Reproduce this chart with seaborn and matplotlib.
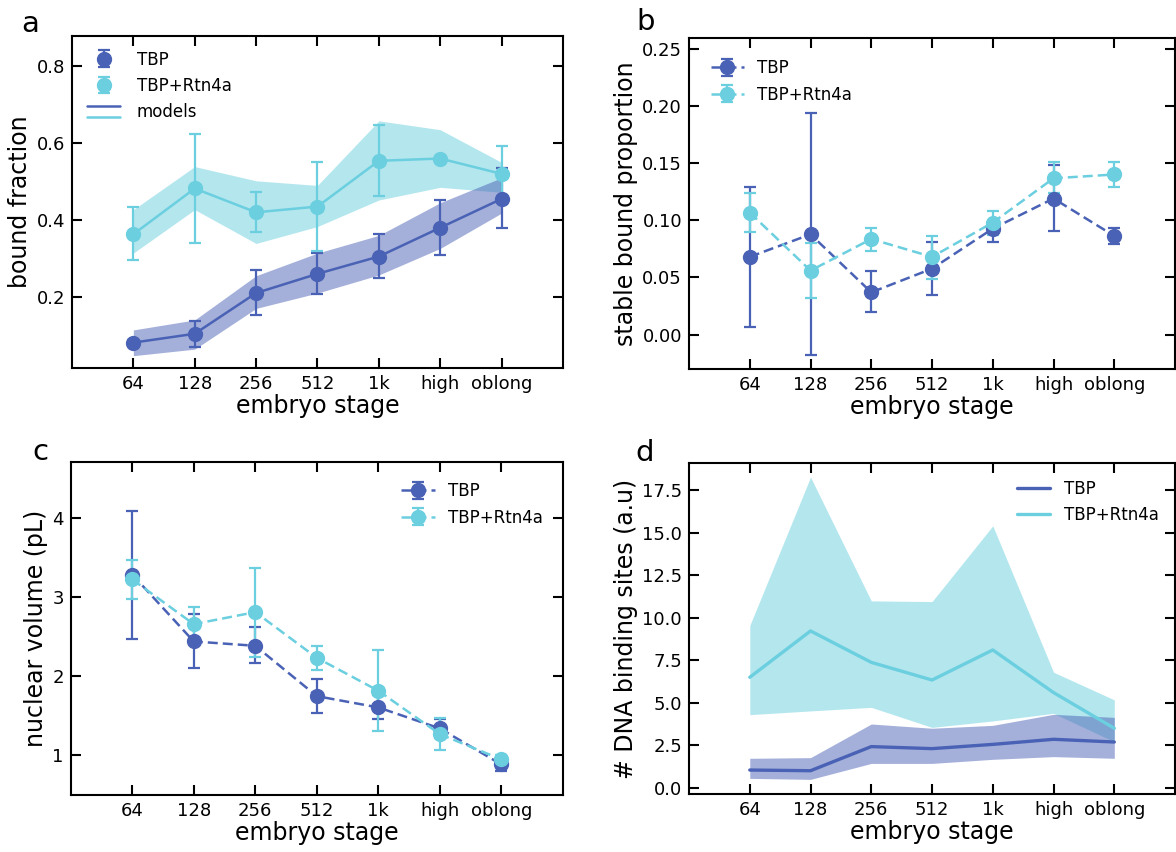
import numpy as np
import matplotlib
matplotlib.use("Agg")
import matplotlib.pyplot as plt
import seaborn as sns
from matplotlib.lines import Line2D
from matplotlib.legend_handler import HandlerBase

stages = ["64", "128", "256", "512", "1k", "high", "oblong"]

# a: bound fraction (points + error bars, model line + band)
bf_tbp = [0.081, 0.104, 0.21, 0.26, 0.305, 0.38, 0.455]
bf_tbp_lo = [0.075, 0.07, 0.152, 0.207, 0.248, 0.309, 0.38]
bf_tbp_hi = [0.087, 0.136, 0.27, 0.314, 0.363, 0.452, 0.535]
bf_tbp_band_lo = [0.047, 0.064, 0.17, 0.21, 0.257, 0.326, 0.418]
bf_tbp_band_hi = [0.114, 0.14, 0.255, 0.314, 0.36, 0.445, 0.51]
bf_rtn = [0.363, 0.482, 0.42, 0.435, 0.554, 0.56, 0.52]
bf_rtn_lo = [0.296, 0.339, 0.37, 0.32, 0.463, 0.555, 0.455]
bf_rtn_hi = [0.434, 0.624, 0.472, 0.55, 0.647, 0.565, 0.592]
bf_rtn_band_lo = [0.314, 0.427, 0.339, 0.383, 0.452, 0.485, 0.472]
bf_rtn_band_hi = [0.427, 0.539, 0.502, 0.49, 0.658, 0.635, 0.55]

# b: stable bound proportion
sb_tbp = [0.068, 0.0877, 0.037, 0.0577, 0.0927, 0.119, 0.0863]
sb_tbp_lo = [0.007, -0.018, 0.0195, 0.0344, 0.0813, 0.091, 0.079]
sb_tbp_hi = [0.129, 0.194, 0.0557, 0.0813, 0.0985, 0.148, 0.0935]
sb_rtn = [0.1067, 0.056, 0.0836, 0.068, 0.098, 0.1367, 0.140]
sb_rtn_lo = [0.090, 0.0318, 0.073, 0.049, 0.087, 0.124, 0.129]
sb_rtn_hi = [0.1236, 0.080, 0.093, 0.086, 0.108, 0.151, 0.151]

# c: nuclear volume
nv_tbp = [3.29, 2.443, 2.388, 1.751, 1.608, 1.342, 0.886]
nv_tbp_lo = [2.468, 2.101, 2.165, 1.54, 1.46, 1.215, 0.806]
nv_tbp_hi = [4.10, 2.789, 2.62, 1.962, 1.76, 1.468, 0.95]
nv_rtn = [3.228, 2.662, 2.814, 2.236, 1.819, 1.27, 0.95]
nv_rtn_lo = [2.979, 2.45, 2.249, 2.08, 1.308, 1.068, 0.88]
nv_rtn_hi = [3.468, 2.878, 3.376, 2.388, 2.333, 1.477, 1.0]

# d: DNA binding sites
ds_tbp = [1.04, 1.0, 2.42, 2.30, 2.55, 2.85, 2.69]
ds_tbp_lo = [0.55, 0.49, 1.43, 1.43, 1.67, 1.83, 1.73]
ds_tbp_hi = [1.73, 1.77, 3.75, 3.50, 3.67, 4.32, 4.14]
ds_rtn = [6.50, 9.23, 7.38, 6.34, 8.11, 5.60, 3.50]
ds_rtn_lo = [4.30, 4.52, 4.73, 3.55, 3.93, 4.38, 2.7]
ds_rtn_hi = [9.55, 18.29, 11.0, 10.96, 15.42, 6.80, 5.17]

c_tbp = "#4a62b5"
c_rtn = "#6bcfdf"

sns.set_style("ticks")
plt.rcParams['font.family'] = ['DejaVu Sans']
plt.rcParams.update({
    'axes.linewidth': 1.5,
    'axes.edgecolor': 'black',
    'axes.labelcolor': 'black',
    'text.color': 'black',
    'xtick.color': 'black',
    'ytick.color': 'black',
})

x = np.arange(len(stages))


def yerr(v, lo, hi):
    v = np.array(v)
    return [v - np.array(lo), np.array(hi) - v]


class StackedLines(HandlerBase):
    def create_artists(self, legend, orig_handle, xdescent, ydescent,
                       width, height, fontsize, trans):
        out = []
        for i, h in enumerate(orig_handle):
            y = -ydescent + height * (1.0 - 1.0 * i)
            out.append(Line2D([-xdescent, -xdescent + width], [y, y],
                              color=h.get_color(), lw=h.get_linewidth(),
                              transform=trans))
        return out


def style(ax, ylabel):
    ax.set_xlim(-1, 7)
    ax.set_xticks(x)
    ax.set_xticklabels(stages)
    ax.tick_params(direction="in", length=7, width=1.5, top=True, right=True,
                   labelsize=13, pad=5)
    ax.set_xlabel("embryo stage", fontsize=17, labelpad=1)
    ax.set_ylabel(ylabel, fontsize=17, labelpad=3)


fig = plt.figure(figsize=(11.76, 8.52), dpi=100)
ax_a = fig.add_axes([0.0612, 0.5681, 0.4175, 0.3902])
ax_b = fig.add_axes([0.5859, 0.5669, 0.4133, 0.3889])
ax_c = fig.add_axes([0.0601, 0.0669, 0.4186, 0.3905])
ax_d = fig.add_axes([0.5859, 0.0681, 0.4133, 0.3881])

eb_kw = dict(ms=10, elinewidth=1.6, capsize=4, capthick=1.6)

# ---- a
ax = ax_a
ax.fill_between(x, bf_rtn_band_lo, bf_rtn_band_hi, color=c_rtn, alpha=0.5, lw=0)
ax.fill_between(x, bf_tbp_band_lo, bf_tbp_band_hi, color=c_tbp, alpha=0.5, lw=0)
sns.lineplot(x=x, y=bf_tbp, ax=ax, color=c_tbp, lw=1.8)
sns.lineplot(x=x, y=bf_rtn, ax=ax, color=c_rtn, lw=1.8)
h1 = ax.errorbar(x, bf_tbp, yerr=yerr(bf_tbp, bf_tbp_lo, bf_tbp_hi), fmt="o",
                 color=c_tbp, **eb_kw)
h2 = ax.errorbar(x, bf_rtn, yerr=yerr(bf_rtn, bf_rtn_lo, bf_rtn_hi), fmt="o",
                 color=c_rtn, **eb_kw)
models = (Line2D([], [], color=c_tbp, lw=1.8), Line2D([], [], color=c_rtn, lw=1.8))
ax.legend([h1, h2, models], ["TBP", "TBP+Rtn4a", "models"], loc="upper left",
          frameon=False, fontsize=12, handler_map={tuple: StackedLines()},
          labelspacing=0.5, handletextpad=1.0)
ax.set_ylim(0.015, 0.88)
ax.set_yticks([0.2, 0.4, 0.6, 0.8])
style(ax, "bound fraction")

# ---- b
ax = ax_b
hb1 = ax.errorbar(x, sb_tbp, yerr=yerr(sb_tbp, sb_tbp_lo, sb_tbp_hi), fmt="--o",
                  color=c_tbp, lw=1.8, dashes=(4, 2), **eb_kw)
hb2 = ax.errorbar(x, sb_rtn, yerr=yerr(sb_rtn, sb_rtn_lo, sb_rtn_hi), fmt="--o",
                  color=c_rtn, lw=1.8, dashes=(4, 2), **eb_kw)
ax.legend([hb1, hb2], ["TBP", "TBP+Rtn4a"], loc="upper left", frameon=False,
          fontsize=12, borderaxespad=0.9, handletextpad=0.8)
ax.set_ylim(-0.030, 0.2596)
ax.set_yticks(np.arange(0, 0.26, 0.05))
ax.yaxis.set_major_formatter(matplotlib.ticker.FormatStrFormatter("%.2f"))
style(ax, "stable bound proportion")

# ---- c
ax = ax_c
hc1 = ax.errorbar(x, nv_tbp, yerr=yerr(nv_tbp, nv_tbp_lo, nv_tbp_hi), fmt="--o",
                  color=c_tbp, lw=1.8, dashes=(4, 2), **eb_kw)
hc2 = ax.errorbar(x, nv_rtn, yerr=yerr(nv_rtn, nv_rtn_lo, nv_rtn_hi), fmt="--o",
                  color=c_rtn, lw=1.8, dashes=(4, 2), **eb_kw)
ax.legend([hc1, hc2], ["TBP", "TBP+Rtn4a"], loc="upper right", frameon=False,
          fontsize=12, borderaxespad=0.8, handletextpad=0.8)
ax.set_ylim(0.5, 4.71)
ax.set_yticks([1, 2, 3, 4])
style(ax, "nuclear volume (pL)")

# ---- d
ax = ax_d
ax.fill_between(x, ds_rtn_lo, ds_rtn_hi, color=c_rtn, alpha=0.5, lw=0)
ax.fill_between(x, ds_tbp_lo, ds_tbp_hi, color=c_tbp, alpha=0.5, lw=0)
sns.lineplot(x=x, y=ds_tbp, ax=ax, color=c_tbp, lw=2.4, label="TBP")
sns.lineplot(x=x, y=ds_rtn, ax=ax, color=c_rtn, lw=2.4, label="TBP+Rtn4a")
ax.legend(loc="upper right", frameon=False, fontsize=12, borderaxespad=0.6,
          handletextpad=0.8)
ax.set_ylim(-0.37, 19.1)
ax.set_yticks(np.arange(0, 17.6, 2.5))
ax.yaxis.set_major_formatter(matplotlib.ticker.FormatStrFormatter("%.1f"))
style(ax, "# DNA binding sites (a.u)")

# panel letters
for lbl, px, py in [("a", 30, 24), ("b", 646, 22), ("c", 40, 452), ("d", 645, 453)]:
    fig.text(px / 1176, 1 - py / 852, lbl, fontsize=21, ha="center", va="center")

fig.savefig("out.png", dpi=100)
